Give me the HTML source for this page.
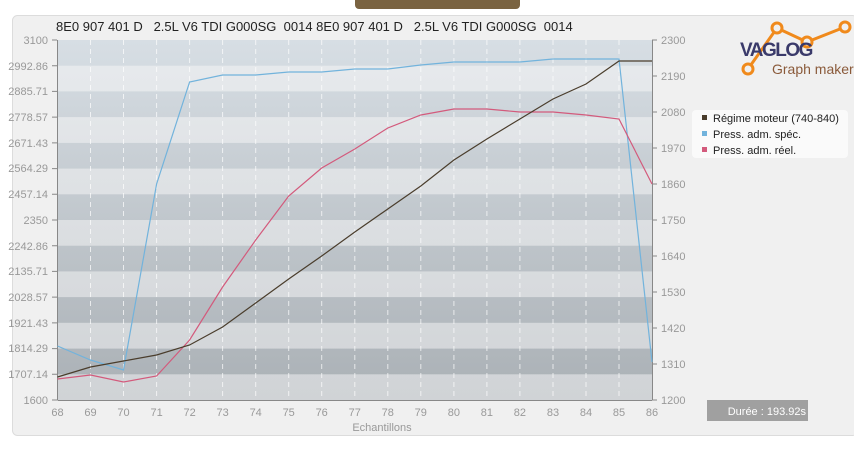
<!DOCTYPE html>
<html><head><meta charset="utf-8"><style>
body{margin:0;background:#fff;width:854px;height:445px;overflow:hidden;font-family:"Liberation Sans","DejaVu Sans",sans-serif}
text{white-space:pre}
</style></head><body>
<svg width="854" height="445" xmlns="http://www.w3.org/2000/svg" font-family="Liberation Sans, DejaVu Sans, sans-serif">
<defs>
<linearGradient id="dk" gradientUnits="userSpaceOnUse" x1="0" y1="40" x2="0" y2="400"><stop offset="0" stop-color="#d7dee4"/><stop offset="1" stop-color="#aab0b5"/></linearGradient>
<linearGradient id="lt" gradientUnits="userSpaceOnUse" x1="0" y1="40" x2="0" y2="400"><stop offset="0" stop-color="#e8ebee"/><stop offset="1" stop-color="#d0d3d6"/></linearGradient>
</defs>
<rect x="355" y="-5" width="165" height="14" rx="4" fill="#7a6341"/>
<rect x="12.5" y="15.5" width="845" height="420" rx="5" fill="#f0f0f0" stroke="#dcdcdc"/>
<text x="56" y="31" font-size="13" fill="#222" xml:space="preserve">8E0 907 401 D   2.5L V6 TDI G000SG  0014 8E0 907 401 D   2.5L V6 TDI G000SG  0014</text>
<g>
<rect x="57.5" y="40" width="594.5" height="360" fill="url(#lt)"/>
<rect x="57.5" y="40" width="594.5" height="25.7" fill="url(#dk)"/>
<rect x="57.5" y="91.4" width="594.5" height="25.7" fill="url(#dk)"/>
<rect x="57.5" y="142.9" width="594.5" height="25.7" fill="url(#dk)"/>
<rect x="57.5" y="194.3" width="594.5" height="25.7" fill="url(#dk)"/>
<rect x="57.5" y="245.7" width="594.5" height="25.7" fill="url(#dk)"/>
<rect x="57.5" y="297.1" width="594.5" height="25.7" fill="url(#dk)"/>
<rect x="57.5" y="348.6" width="594.5" height="25.7" fill="url(#dk)"/>
</g>
<g stroke="#fff" stroke-dasharray="5,4" stroke-width="1" opacity="0.7">
<line x1="90.5" y1="40" x2="90.5" y2="400"/><line x1="123.5" y1="40" x2="123.5" y2="400"/><line x1="156.6" y1="40" x2="156.6" y2="400"/><line x1="189.6" y1="40" x2="189.6" y2="400"/><line x1="222.6" y1="40" x2="222.6" y2="400"/><line x1="255.7" y1="40" x2="255.7" y2="400"/><line x1="288.7" y1="40" x2="288.7" y2="400"/><line x1="321.7" y1="40" x2="321.7" y2="400"/><line x1="354.8" y1="40" x2="354.8" y2="400"/><line x1="387.8" y1="40" x2="387.8" y2="400"/><line x1="420.8" y1="40" x2="420.8" y2="400"/><line x1="453.9" y1="40" x2="453.9" y2="400"/><line x1="486.9" y1="40" x2="486.9" y2="400"/><line x1="519.9" y1="40" x2="519.9" y2="400"/><line x1="553" y1="40" x2="553" y2="400"/><line x1="586" y1="40" x2="586" y2="400"/><line x1="619" y1="40" x2="619" y2="400"/>
</g>
<g stroke="#888" stroke-width="1">
<line x1="57.5" y1="40" x2="57.5" y2="400"/><line x1="57.5" y1="400.5" x2="652" y2="400.5"/>
<line x1="652.5" y1="40" x2="652.5" y2="400"/>
</g>
<g fill="#999" font-size="11" text-anchor="end">
<text x="48" y="44">3100</text><text x="48" y="70">2992.86</text><text x="48" y="95">2885.71</text><text x="48" y="121">2778.57</text><text x="48" y="147">2671.43</text><text x="48" y="172">2564.29</text><text x="48" y="198">2457.14</text><text x="48" y="224">2350</text><text x="48" y="250">2242.86</text><text x="48" y="275">2135.71</text><text x="48" y="301">2028.57</text><text x="48" y="327">1921.43</text><text x="48" y="352">1814.29</text><text x="48" y="378">1707.14</text><text x="48" y="404">1600</text>
</g>
<g fill="#999" font-size="11">
<text x="661" y="44">2300</text><text x="661" y="80">2190</text><text x="661" y="116">2080</text><text x="661" y="152">1970</text><text x="661" y="188">1860</text><text x="661" y="224">1750</text><text x="661" y="260">1640</text><text x="661" y="296">1530</text><text x="661" y="332">1420</text><text x="661" y="368">1310</text><text x="661" y="404">1200</text>
</g>
<g stroke="#888"><path d="M52 40h5M52 65.7h5M52 91.4h5M52 117.1h5M52 142.9h5M52 168.6h5M52 194.3h5M52 220h5M52 245.7h5M52 271.4h5M52 297.1h5M52 322.9h5M52 348.6h5M52 374.3h5M52 400h5M652 40h5M652 76h5M652 112h5M652 148h5M652 184h5M652 220h5M652 256h5M652 292h5M652 328h5M652 364h5M652 400h5"/></g>
<g fill="#999" font-size="11" text-anchor="middle">
<text x="57.5" y="416">68</text><text x="90.5" y="416">69</text><text x="123.5" y="416">70</text><text x="156.6" y="416">71</text><text x="189.6" y="416">72</text><text x="222.6" y="416">73</text><text x="255.7" y="416">74</text><text x="288.7" y="416">75</text><text x="321.7" y="416">76</text><text x="354.8" y="416">77</text><text x="387.8" y="416">78</text><text x="420.8" y="416">79</text><text x="453.9" y="416">80</text><text x="486.9" y="416">81</text><text x="519.9" y="416">82</text><text x="553" y="416">83</text><text x="586" y="416">84</text><text x="619" y="416">85</text><text x="652" y="416">86</text>
<text x="382" y="431">Echantillons</text>
</g>
<g fill="none" stroke-width="1.2">
<polyline stroke="#72b3dc" points="57.5,346 90.5,360 123.5,370 156.6,184 189.6,82 222.6,75 255.7,75 288.7,72 321.7,72 354.8,69 387.8,69 420.8,65 453.9,62 486.9,62 519.9,62 553,59 586,59 619,59 652,362"/>
<polyline stroke="#d35a7c" points="57.5,379 90.5,375 123.5,382 156.6,376 189.6,340 222.6,287 255.7,240 288.7,196 321.7,168 354.8,149 387.8,128 420.8,115 453.9,109 486.9,109 519.9,112 553,112 586,115 619,119 652,184"/>
<polyline stroke="#4a3d2c" points="57.5,377 90.5,367 123.5,361 156.6,355 189.6,345 222.6,327 255.7,303 288.7,279 321.7,256 354.8,232 387.8,209 420.8,186 453.9,160 486.9,139 519.9,119 553,99 586,84 619,61 652,61"/>
</g>
<rect x="692" y="110" width="156" height="48" rx="4" fill="#fafafa"/>
<g font-size="11" fill="#222">
<rect x="702" y="115" width="5" height="5" fill="#4a3d2c"/><text x="713" y="122">Régime moteur (740-840)</text>
<rect x="702" y="131" width="5" height="5" fill="#72b3dc"/><text x="713" y="138">Press. adm. spéc.</text>
<rect x="702" y="147" width="5" height="5" fill="#d35a7c"/><text x="713" y="154">Press. adm. réel.</text>
</g>
<g stroke="#f08a1c" stroke-width="3" fill="none">
<polyline points="748,69 777,28 807,42 845,27"/>
<circle cx="748" cy="69" r="5" fill="#f0f0f0"/><circle cx="777" cy="28" r="5" fill="#f0f0f0"/><circle cx="807" cy="42" r="5" fill="#f0f0f0"/><circle cx="845" cy="27" r="5" fill="#f0f0f0"/>
</g>
<text x="740" y="56" font-size="19" font-weight="bold" fill="#3a3a6a" letter-spacing="-1.5">VAGLOG</text>
<text x="772" y="74" font-size="14" fill="#8a5a3a">Graph maker</text>
<rect x="707" y="400" width="101" height="21" fill="#a0a0a0"/>
<text x="806" y="415" font-size="11" fill="#fff" text-anchor="end">Durée : 193.92s</text>
</svg>
</body></html>
